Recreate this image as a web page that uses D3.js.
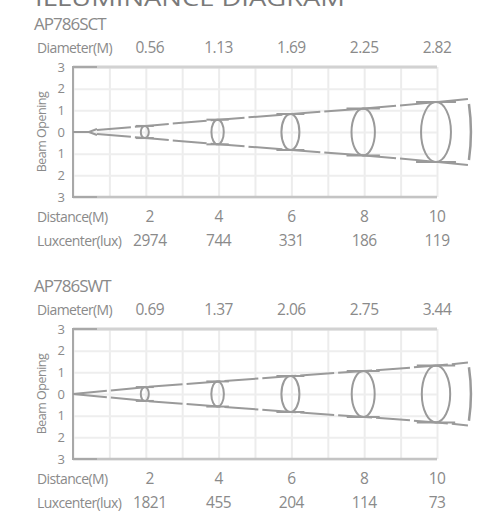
<!DOCTYPE html>
<html>
<head>
<meta charset="utf-8">
<script src="https://cdn.jsdelivr.net/npm/d3@7"></script>
<style>
  body { margin: 0; background: #fff; }
  svg { display: block; font-family: "Open Sans", sans-serif; }
  .lbl { fill: #8a8a8a; }
</style>
</head>
<body>
<svg width="478" height="517"></svg>
<script>
// values
const distances = [2, 4, 6, 8, 10];
const openingTicks = [3, 2, 1, 0, -1, -2, -3];

const sctDiameter = [0.56, 1.13, 1.69, 2.25, 2.82];
const sctLux = [2974, 744, 331, 186, 119];
const sctBeam = [0.28, 0.57, 0.83, 1.08, 1.38];   // half opening drawn at each distance
const sctEnd = [10.85, 1.52];

const swtDiameter = [0.69, 1.37, 2.06, 2.75, 3.44];
const swtLux = [1821, 455, 204, 114, 73];
const swtBeam = [0.32, 0.58, 0.83, 1.06, 1.31];
const swtEnd = [10.85, 1.45];

const svg = d3.select('svg');
const margin = { left: 73, right: 41 };
const width = +svg.attr('width') - margin.left - margin.right;
const plotH = 130;
const grey = '#9a9a9a';

const x = d3.scaleLinear().domain([0, 10]).range([0, width]);
const y = d3.scaleLinear().domain([-3, 3]).range([plotH, 0]);

// title, cut off at the top edge as in the scan
svg.append('text')
    .attr('x', 35).attr('y', 6)
    .attr('textLength', 310).attr('lengthAdjust', 'spacingAndGlyphs')
    .style('font-size', '22px').style('fill', '#7a7a7a')
    .text('ILLUMINANCE DIAGRAM');

function panel(top, name, diameter, lux, beam, end, lamp) {
    const g = svg.append('g').attr('transform', `translate(${margin.left}, ${top})`);

    g.append('text').attr('class', 'lbl')
        .attr('x', -39).attr('y', -37)
        .style('font-size', '17px').style('letter-spacing', '-1px')
        .text(name);

    // grid
    g.append('g')
        .call(d3.axisBottom(x).ticks(10).tickSize(plotH).tickFormat(''))
        .call(a => a.select('.domain').remove())
        .call(a => a.selectAll('.tick line').attr('stroke', '#ececec').attr('stroke-width', 2));
    g.append('g')
        .call(d3.axisLeft(y).tickValues(openingTicks).tickSize(-width).tickFormat(''))
        .call(a => a.select('.domain').remove())
        .call(a => a.selectAll('.tick line').attr('stroke', '#eeeeee').attr('stroke-width', 2));

    // frame
    g.append('line').attr('x1', 0).attr('x2', width).attr('y1', 0).attr('y2', 0)
        .attr('stroke', '#d2d2d2').attr('stroke-width', 3);
    g.append('line').attr('x1', 0).attr('x2', width).attr('y1', plotH).attr('y2', plotH)
        .attr('stroke', '#c4c4c4').attr('stroke-width', 2.5);
    g.append('path')
        .attr('d', `M24,0H0V${plotH}H24`)
        .attr('fill', 'none').attr('stroke', '#a8a8a8').attr('stroke-width', 2);

    // y axis labels
    g.append('g')
        .attr('transform', 'translate(-5,0)')
        .call(d3.axisLeft(y).tickValues(openingTicks).tickSize(0).tickFormat(d => Math.abs(d)))
        .call(a => a.select('.domain').remove())
        .call(a => a.selectAll('.tick text').attr('class', 'lbl').attr('fill', null)
            .style('font-size', '13px').style('font-family', '"Open Sans", sans-serif'));

    g.append('text').attr('class', 'lbl')
        .attr('transform', `translate(-27, ${plotH / 2}) rotate(-90)`)
        .attr('text-anchor', 'middle')
        .style('font-size', '12.5px').style('letter-spacing', '-0.5px')
        .text('Beam Opening');

    // rows of values
    function row(yy, label, values, fmt) {
        g.append('text').attr('class', 'lbl')
            .attr('x', -36).attr('y', yy).attr('dy', '0.35em')
            .style('font-size', '14px').style('letter-spacing', '-0.6px')
            .text(label);
        g.selectAll(null).data(values).enter().append('text').attr('class', 'lbl')
            .attr('x', (d, i) => x(distances[i]) + (i === 0 ? 4 : 0))
            .attr('y', yy).attr('dy', '0.35em')
            .attr('text-anchor', 'middle')
            .style('font-size', '15.5px').style('letter-spacing', '-0.5px')
            .text(fmt);
    }
    row(-19, 'Diameter(M)', diameter, d => d.toFixed(2));
    row(plotH + 20, 'Distance(M)', distances, d => d);
    row(plotH + 44, 'Luxcenter(lux)', lux, d => d);

    // beam cone; the SCT panel starts it after the small lamp
    const lampLen = lamp ? 0.66 : 0;
    const start = [lampLen, beam[0] * lampLen / distances[0]];
    const pts = [start].concat(distances.map((d, i) => [d, beam[i]]), [end]);
    const cone = d3.line().x(p => x(p[0])).y(p => y(p[1]));
    [1, -1].forEach(s => {
        g.append('path')
            .attr('d', cone(pts.map(p => [p[0], s * p[1]])))
            .attr('fill', 'none').attr('stroke', grey).attr('stroke-width', 2)
            .attr('stroke-dasharray', '34,4');
    });

    if (lamp) {
        g.append('path')
            .attr('d', `M0,${y(0)}H16L24,${y(0) - 3}M16,${y(0)}L24,${y(0) + 3}`)
            .attr('fill', 'none').attr('stroke', grey).attr('stroke-width', 2);
    }

    // rings at each distance
    distances.forEach((d, i) => {
        const ry = y(0) - y(beam[i]);
        const rx = Math.max(4, ry * 0.5);
        const cx = x(d) - 1;
        g.append('ellipse')
            .attr('cx', cx).attr('cy', y(0))
            .attr('rx', rx).attr('ry', ry)
            .attr('fill', 'none').attr('stroke', grey).attr('stroke-width', 2);
        [1, -1].forEach(s => {
            g.append('line')
                .attr('x1', cx - rx - 5).attr('x2', cx + rx + 5)
                .attr('y1', y(s * beam[i])).attr('y2', y(s * beam[i]))
                .attr('stroke', grey).attr('stroke-width', 2);
        });
    });

    // end cap of the beam, a thin arc
    const capX = x(end[0]) + 1;
    const capR = (y(0) - y(end[1])) * 0.85;
    g.append('path')
        .attr('d', `M${capX},${y(0) - capR}Q${capX + 4},${y(0)} ${capX},${y(0) + capR}`)
        .attr('fill', 'none').attr('stroke', grey).attr('stroke-width', 2.5);
}

panel(67, 'AP786SCT', sctDiameter, sctLux, sctBeam, sctEnd, true);
panel(329, 'AP786SWT', swtDiameter, swtLux, swtBeam, swtEnd, false);
</script>
</body>
</html>
